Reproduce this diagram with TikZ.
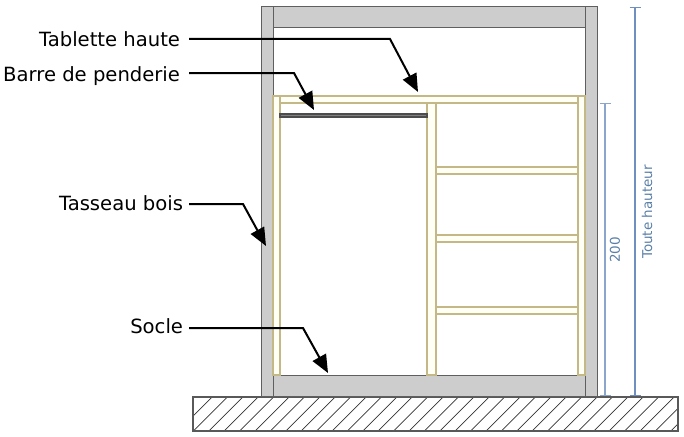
\documentclass[tikz,border=0pt]{standalone}
\usepackage{fontspec}
\setmainfont{DejaVu Sans}
\usetikzlibrary{arrows.meta,positioning}
\definecolor{wallgray}{HTML}{CDCDCD}
\definecolor{wallline}{HTML}{5F5F5F}
\definecolor{woodline}{HTML}{C4B887}
\definecolor{woodfill}{HTML}{FFFFF6}
\definecolor{dimline}{HTML}{6F90BE}
\definecolor{dimtext}{HTML}{5B80A8}
\tikzset{x=1pt, y=-1pt, % the picture is measured in pixels of the reference
>={Triangle[length=18pt,width=15pt]}, % makes the arrow heads of the leaders
wall/.style={draw=wallline, fill=wallgray, line width=1pt}, % sets the grey carcass panels
wood/.style={draw=woodline, fill=woodfill, line width=1.3pt}, % sets the wooden parts
leader/.style={->, black, line width=2pt}, % sets the leader lines
callout/.style={anchor=east, font=\fontsize{19.6}{22}\selectfont, inner xsep=0pt, outer xsep=9pt, text height=20pt, text depth=4pt}, % sets the labels
dimarrow/.style={{Bar[width=11pt,line width=1pt]}-{Bar[width=11pt,line width=1pt]}, dimline, line width=1.2pt}, % sets the dimension lines
dimlabel/.style={rotate=90, text=dimtext, font=\fontsize{13.5}{15}\selectfont, inner sep=0pt}, % sets the dimension texts
}

\begin{document}
\begin{tikzpicture}
\useasboundingbox (0,0) rectangle (684,436);

% ground
\begin{scope}
\clip (193,397) rectangle (678,431);
\foreach \i in {0,...,33} {
  \draw[line width=0.7pt, black!80] ({178+15.4*\i},431) -- ({212+15.4*\i},397);
}
\end{scope}
\draw[line width=1.1pt, black!65] (193,397) rectangle (678,431);

% carcass
\draw[wall] (261,7) rectangle (273,396);
\draw[wall] (585,7) rectangle (597,396);
\draw[wall] (273,7) rectangle (585,28);
\draw[wall] (273,375) rectangle (585,396);

% wood
\draw[wood] (273,96) rectangle (585,103);
\draw[wood] (273,96) rectangle (280,375);
\draw[wood] (578,96) rectangle (585,375);
\draw[wood] (427,103) rectangle (436,375);
\foreach \ytop in {167,235,307} {
  \draw[wood] (436,\ytop) rectangle (578,\ytop+7);
}

% hanging rail
\draw[draw=black!70, fill=black!50, line width=1.2pt] (280,114) rectangle (427,117);

% dimensions
\coordinate (fullTop) at (635,7);
\coordinate (fullBottom) at (635,396);
\coordinate (twoTop) at (605,103);
\coordinate (twoBottom) at (605,396);
\draw[dimarrow] (fullTop) -- (fullBottom);
\draw[dimarrow, line width=1.6pt, dimline!80] (twoTop) -- (twoBottom);
\node[dimlabel] (fullLabel) at (647,212) {Toute hauteur};
\node[dimlabel] (twoLabel) at (615,250) {200};

% labels
\node[callout] (tablette) at (189,39) {Tablette haute};
\node[callout] (barre) at (189,73) {Barre de penderie};
\node[callout, outer xsep=6pt, text height=17pt] (tasseau) at (189,204) {Tasseau bois};
\node[callout, outer xsep=6pt, text height=15pt] (socle) at (189,328) {Socle};

\coordinate (tabletteBend) at (390,39);
\coordinate (tabletteTip) at (418,92);
\coordinate (barreBend) at (294,73);
\coordinate (barreTip) at (314,110);
\coordinate (tasseauBend) at (243,204);
\coordinate (tasseauTip) at (266,246);
\coordinate (socleBend) at (303,328);
\coordinate (socleTip) at (328,373);

\draw[leader] (tablette.east) -- (tabletteBend) -- (tabletteTip);
\draw[leader] (barre.east) -- (barreBend) -- (barreTip);
\draw[leader] (tasseau.east) -- (tasseauBend) -- (tasseauTip);
\draw[leader] (socle.east) -- (socleBend) -- (socleTip);
\end{tikzpicture}
\end{document}
